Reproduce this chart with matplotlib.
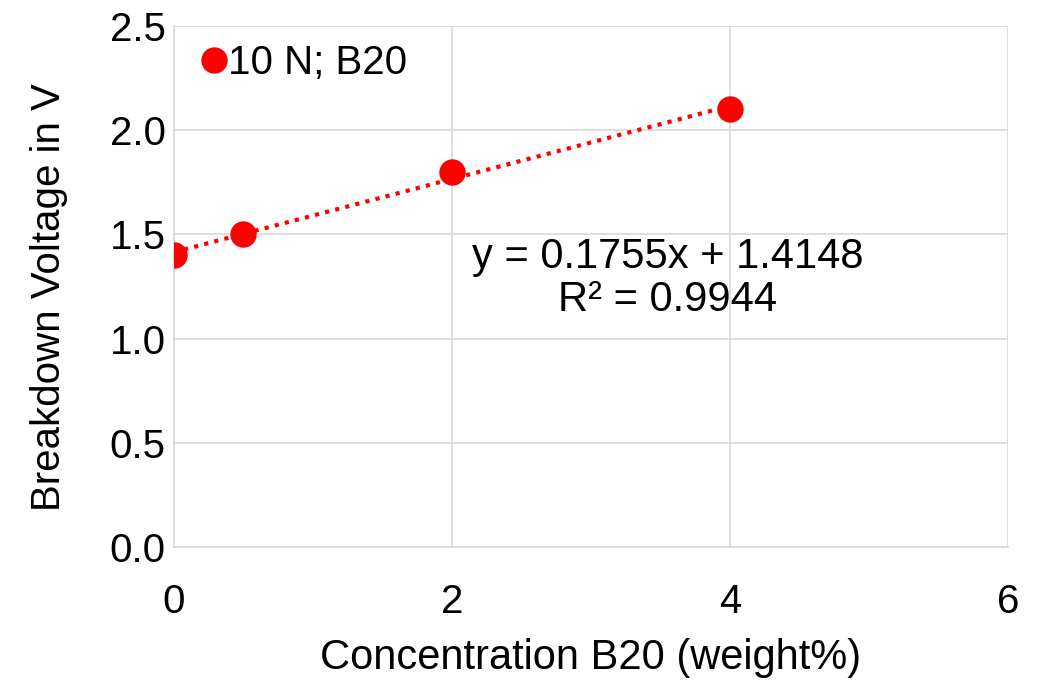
import matplotlib.pyplot as plt
import numpy as np

plt.rcParams['font.family'] = ['Liberation Sans', 'DejaVu Sans']

conc = [0, 0.5, 2, 4]
voltage = [1.4, 1.5, 1.8, 2.1]
series_label = "10 N; B20"
eq_text = "y = 0.1755x + 1.4148\nR² = 0.9944"

fig = plt.figure(figsize=(10.43, 6.81), dpi=100)
ax = fig.add_axes([0.1668, 0.1968, 0.7996, 0.765])

# linear trendline over the data range
m, b = np.polyfit(conc, voltage, 1)
xt = np.linspace(min(conc), max(conc), 50)
ax.plot(xt, m * xt + b, color="#ff0000", linestyle=(0, (1, 1.5)), linewidth=3, zorder=2)

ax.plot(conc, voltage, "o", color="#ff0000", markersize=18, label=series_label, zorder=3)

ax.text(3.55, 1.29, eq_text, ha="center", va="center", fontsize=30, linespacing=1.1)

ax.set_xlim(0, 6)
ax.set_ylim(0, 2.5)
ax.set_xticks([0, 2, 4, 6])
ax.set_yticks(np.arange(0, 2.51, 0.5))
ax.set_yticklabels([f"{v:.1f}" for v in np.arange(0, 2.51, 0.5)])
ax.tick_params(labelsize=29, length=0)
ax.tick_params(axis="x", pad=26)
ax.tick_params(axis="y", pad=6)
ax.grid(True, color="#d9d9d9", linewidth=1.2)
ax.set_axisbelow(True)
for s in ["top", "right"]:
    ax.spines[s].set_visible(False)
for s in ["left", "bottom"]:
    ax.spines[s].set_color("#d9d9d9")
    ax.spines[s].set_linewidth(1.2)

ax.set_xlabel("Concentration B20 (weight%)", fontsize=30, labelpad=12)
ax.set_ylabel("Breakdown Voltage in V", fontsize=29)
ax.yaxis.set_label_coords(-0.127, 0.48)

ax.legend(loc="upper left", frameon=False, fontsize=29, handletextpad=-0.2,
          borderaxespad=0.0, borderpad=0.45, handlelength=1.1)

fig.savefig("out.png", dpi=100)
